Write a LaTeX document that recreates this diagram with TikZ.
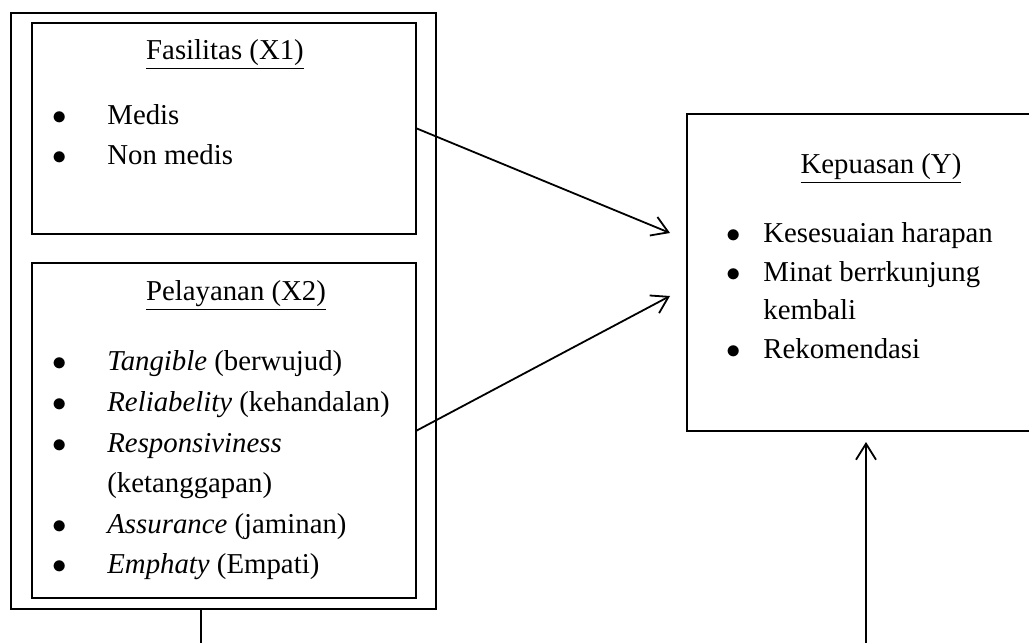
\documentclass[tikz,border=0pt]{standalone}
\usepackage{fontspec}
\setmainfont{Liberation Serif}
\usepackage{tikz}
\usetikzlibrary{arrows.meta}
\usetikzlibrary{positioning}
\usetikzlibrary{calc}

\begin{document}
\begin{tikzpicture}[x=0.5pt, y=-0.5pt,
			kotak/.style={draw, rectangle, line width=0.8pt, inner sep=0pt},
			judul/.style={anchor=base, inner sep=0pt},
			butir/.style={anchor=base west, inner sep=0pt},
			panah/.style={-{Straight Barb[length=8pt, width=10pt]}, line width=0.9pt},
			font=\fontsize{14.4}{17}\selectfont]
			\useasboundingbox (0,0) rectangle (1029,643);
			
			% kotak variabel bebas
			\node[kotak, minimum width=212.5pt, minimum height=298pt](grup) at (223.5, 311) {};
			\node[kotak, minimum width=192pt, minimum height=105.5pt](fasilitas) at (224, 128.5) {};
			\node[kotak, minimum width=192pt, minimum height=167.5pt](pelayanan) at (224, 430.5) {};
			
			\node[judul](judul1) at (225, 59) {\underline{Fasilitas (X1)}};
			\node[butir](medis) at (52, 124) {\makebox[27.5pt][l]{$\bullet$}Medis};
			\node[butir](nonmedis) at (52, 164) {\makebox[27.5pt][l]{$\bullet$}Non medis};
			
			\node[judul](judul2) at (236, 300) {\underline{Pelayanan (X2)}};
			\node[butir](tangible) at (52, 370) {\makebox[27.5pt][l]{$\bullet$}\textit{Tangible} (berwujud)};
			\node[butir](reliabel) at (52, 411) {\makebox[27.5pt][l]{$\bullet$}\textit{Reliabelity} (kehandalan)};
			\node[butir](respon) at (52, 452) {\makebox[27.5pt][l]{$\bullet$}\textit{Responsiviness}};
			\node[butir](respon2) at (107, 492) {(ketanggapan)};
			\node[butir](assurance) at (52, 533) {\makebox[27.5pt][l]{$\bullet$}\textit{Assurance} (jaminan)};
			\node[butir](emphaty) at (52, 573) {\makebox[27.5pt][l]{$\bullet$}\textit{Emphaty} (Empati)};
			
			% kotak variabel terikat
			\node[kotak, minimum width=176.5pt, minimum height=158.5pt](kepuasan) at (863.5, 272.5) {};
			\node[judul](judul3) at (881, 173) {\underline{Kepuasan (Y)}};
			\node[butir](harapan) at (726, 242) {\makebox[18.5pt][l]{$\bullet$}Kesesuaian harapan};
			\node[butir](minat) at (726, 281) {\makebox[18.5pt][l]{$\bullet$}Minat berrkunjung};
			\node[butir](minat2) at (763, 319) {kembali};
			\node[butir](rekomen) at (726, 358) {\makebox[18.5pt][l]{$\bullet$}Rekomendasi};
			
			% panah
			\coordinate (ujung1) at (670, 233);
			\coordinate (ujung2) at (670, 296);
			\coordinate (ujung3) at (866, 442);
			\coordinate (bawah1) at (201, 643);
			\coordinate (bawah2) at (866, 643);
			
			\draw[panah] (fasilitas.east) -- (ujung1);
			\draw[panah] (pelayanan.east) -- (ujung2);
			\draw[line width=0.8pt] (grup.south -| bawah1) -- (bawah1);
			\draw[panah] (bawah2) -- (ujung3);
			
		\end{tikzpicture}
\end{document}
